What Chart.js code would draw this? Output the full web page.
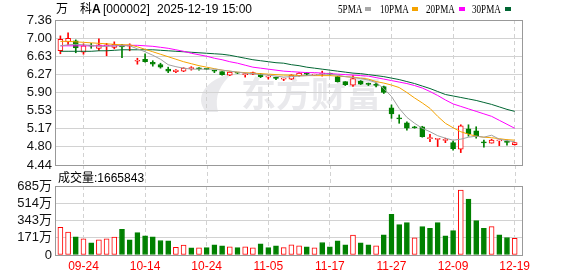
<!DOCTYPE html>
<html>
<head>
<meta charset="utf-8">
<script src="https://cdn.jsdelivr.net/npm/chart.js@4.4.1/dist/chart.umd.min.js"></script>
<style>
  body { margin: 0; background: #fff; }
  #wrap { position: relative; width: 578px; height: 276px; overflow: hidden; }
  canvas { position: absolute; left: 0; top: 0; }
  .t { position: absolute; white-space: pre; font-size: 12px; line-height: 14px; color: #000;
       font-family: "Liberation Sans", Arial, sans-serif; }
  .cjk { font-family: "Noto Sans CJK SC", sans-serif; }
  .lg { position: absolute; top: 2px; font-family: "Liberation Serif", serif; font-size: 12px;
        line-height: 14px; transform: scaleX(0.76); transform-origin: 0 0; white-space: pre; }
  .box { position: absolute; top: 7px; width: 6px; height: 4px; }
</style>
</head>
<body>
<div id="wrap">
  <canvas id="kline" width="578" height="276"></canvas>
  <canvas id="vol" width="578" height="276"></canvas>

  <div id="title">
    <span class="t cjk" style="left:56px;top:1px">万</span>
    <span class="t cjk" style="left:80px;top:1px">科<b style="font-family:'Liberation Sans'">A</b></span>
    <span class="t" style="left:103px;top:2px">[000002]</span>
    <span class="t" style="left:157px;top:2px">2025-12-19</span>
    <span class="t" style="left:222px;top:2px">15:00</span>
  </div>

  <span class="lg" style="left:338px">5PMA</span><div class="box" style="left:365px;background:#a8a8a8"></div>
  <span class="lg" style="left:380px">10PMA</span><div class="box" style="left:412px;background:#f5a300"></div>
  <span class="lg" style="left:426px">20PMA</span><div class="box" style="left:459px;background:#ff00ff"></div>
  <span class="lg" style="left:472px">30PMA</span><div class="box" style="left:505px;background:#006633"></div>

  <span class="t" style="left:58px;top:170px"><span class="cjk">成交量</span>:1665843</span>
</div>

<script>
// trading days shown (MM-DD)
const dates = [
  '09-19','09-22','09-23','09-24','09-25','09-26','09-29','09-30','10-09','10-10',
  '10-13','10-14','10-15','10-16','10-17','10-20','10-21','10-22','10-23','10-24',
  '10-27','10-28','10-29','10-30','10-31','11-03','11-04','11-05','11-06','11-07',
  '11-10','11-11','11-12','11-13','11-14','11-17','11-18','11-19','11-20','11-21',
  '11-24','11-25','11-26','11-27','11-28','12-01','12-02','12-03','12-04','12-05',
  '12-08','12-09','12-10','12-11','12-12','12-15','12-16','12-17','12-18','12-19'
];
const tickLabels = ['09-24','10-14','10-24','11-05','11-17','11-27','12-09','12-19'];

const open = [
  6.74,6.92,6.94,6.71,6.845,6.79,6.84,6.81,6.86,6.835,
  6.53,6.57,6.51,6.46,6.37,6.32,6.33,6.38,6.385,6.375,
  6.34,6.32,6.25,6.30,6.26,6.27,6.27,6.21,6.195,6.17,
  6.17,6.24,6.28,6.25,6.27,6.28,6.22,6.12,6.05,6.13,
  6.075,6.055,6.02,5.59,5.39,5.29,5.21,5.21,4.97,4.955,
  4.935,4.89,4.76,5.17,5.13,4.895,4.88,4.925,4.905,4.85
];
const high = [
  7.04,7.10,6.96,6.88,6.89,6.98,6.89,6.92,6.87,6.88,
  6.59,6.68,6.54,6.49,6.41,6.36,6.40,6.42,6.40,6.38,
  6.35,6.32,6.32,6.30,6.29,6.31,6.28,6.24,6.21,6.19,
  6.26,6.30,6.30,6.27,6.33,6.29,6.23,6.12,6.24,6.14,
  6.09,6.09,6.03,5.65,5.45,5.31,5.22,5.22,5.06,4.97,
  4.98,4.92,5.25,5.25,5.21,4.94,4.96,4.94,4.94,4.89
];
const low = [
  6.68,6.86,6.70,6.67,6.79,6.74,6.64,6.78,6.60,6.74,
  6.47,6.51,6.43,6.39,6.30,6.30,6.32,6.35,6.35,6.36,
  6.30,6.25,6.24,6.28,6.21,6.26,6.20,6.17,6.16,6.14,
  6.16,6.23,6.24,6.24,6.23,6.25,6.11,6.04,6.02,6.06,
  6.04,6.01,5.88,5.38,5.28,5.14,5.18,5.00,4.91,4.81,
  4.89,4.74,4.69,5.02,4.98,4.80,4.88,4.83,4.84,4.84
];
const close = [
  6.97,6.99,6.80,6.84,6.835,6.86,6.855,6.87,6.82,6.845,
  6.54,6.52,6.47,6.41,6.33,6.35,6.39,6.40,6.375,6.365,
  6.33,6.26,6.31,6.29,6.265,6.30,6.22,6.215,6.185,6.175,
  6.25,6.29,6.27,6.27,6.275,6.27,6.12,6.06,6.18,6.07,
  6.065,6.045,5.90,5.47,5.37,5.18,5.19,5.01,4.98,4.96,
  4.945,4.77,5.23,5.07,5.02,4.885,4.94,4.93,4.895,4.89
];

// moving averages
const ma5 = [
  6.84,6.86,6.87,6.86,6.85,6.83,6.83,6.84,6.84,6.84,
  6.78,6.72,6.65,6.57,6.46,6.42,6.39,6.37,6.37,6.37,
  6.37,6.35,6.33,6.31,6.29,6.28,6.26,6.25,6.23,6.21,
  6.22,6.23,6.24,6.25,6.27,6.27,6.25,6.22,6.20,6.18,
  6.15,6.10,5.98,5.82,5.58,5.40,5.28,5.18,5.11,5.03,
  4.98,4.94,4.96,5.00,5.02,5.00,5.04,4.96,4.93,4.91
];
const ma10 = [
  6.93,6.93,6.92,6.91,6.90,6.89,6.88,6.87,6.86,6.86,
  6.82,6.77,6.72,6.67,6.62,6.57,6.52,6.48,6.44,6.41,
  6.38,6.35,6.33,6.31,6.30,6.29,6.28,6.27,6.26,6.25,
  6.25,6.24,6.24,6.24,6.24,6.24,6.23,6.22,6.21,6.19,
  6.17,6.12,6.09,6.05,6.00,5.90,5.79,5.69,5.58,5.42,
  5.28,5.19,5.11,5.06,5.02,5.00,4.99,4.97,4.95,4.94
];
const ma20 = [
  6.84,6.84,6.84,6.84,6.84,6.84,6.84,6.84,6.85,6.85,
  6.85,6.84,6.83,6.81,6.79,6.76,6.73,6.69,6.66,6.63,
  6.59,6.56,6.52,6.49,6.45,6.41,6.39,6.37,6.35,6.33,
  6.32,6.31,6.30,6.30,6.29,6.28,6.27,6.26,6.25,6.24,
  6.23,6.20,6.17,6.14,6.11,6.08,6.04,5.99,5.92,5.84,
  5.75,5.67,5.62,5.57,5.52,5.47,5.42,5.34,5.26,5.18
];
const ma30 = [
  6.73,6.73,6.73,6.73,6.73,6.74,6.74,6.75,6.76,6.76,
  6.76,6.76,6.76,6.75,6.74,6.73,6.72,6.71,6.70,6.69,
  6.68,6.67,6.65,6.62,6.59,6.56,6.54,6.52,6.50,6.49,
  6.46,6.44,6.41,6.39,6.37,6.35,6.33,6.31,6.29,6.28,
  6.26,6.24,6.22,6.19,6.16,6.12,6.08,6.03,5.98,5.92,
  5.86,5.83,5.80,5.77,5.74,5.70,5.66,5.61,5.56,5.52
];

// volume in 万, and whether the bar is drawn red (1) or green (0)
const volume = [
  275,228,181,161,121,151,161,178,255,151,
  222,191,181,144,141,77,98,70,70,74,
  101,91,81,74,81,70,111,74,91,74,
  101,91,81,70,124,81,141,101,198,121,
  101,91,201,403,302,322,171,282,265,322,
  191,242,644,554,342,265,282,201,174,166.5843
];
const volUp = [
  1,1,0,1,0,1,1,1,0,0,
  0,0,0,0,0,1,1,0,1,0,
  0,0,1,0,1,1,0,0,0,1,
  1,1,0,1,0,0,0,0,1,0,
  0,1,0,0,0,0,1,0,0,0,
  0,0,1,0,0,0,1,0,0,1
];

const priceTicks = [4.44, 4.805, 5.17, 5.535, 5.90, 6.265, 6.63, 6.995, 7.36];
const priceTickLabels = ['4.44','4.80','5.17','5.53','5.90','6.27','6.63','7.00','7.36'];
const volTicks = [0, 171.25, 342.5, 513.75, 685];
const volTickLabels = ['0','171万','343万','514万','685万'];

const RED = '#ff0000';
const GREEN = '#008000';
const GRID = '#d2d2d2';
const FRAME = '#999999';
const FONT = "'Liberation Sans', 'Noto Sans CJK SC', sans-serif";
const X_MIN = -0.7, X_MAX = 59.95;
const tickIdx = tickLabels.map(l => dates.indexOf(l));
const isUp = i => close[i] >= open[i];

// grey frame around the plot area
const framePlugin = {
  id: 'frame',
  afterDraw(chart) {
    const { ctx, chartArea: a } = chart;
    ctx.save();
    ctx.strokeStyle = FRAME;
    ctx.lineWidth = 1;
    ctx.strokeRect(Math.round(a.left) + 0.5, Math.round(a.top) + 0.5,
      Math.round(a.right - a.left), Math.round(a.bottom - a.top));
    ctx.restore();
  }
};

// watermark + dashed date lines running through the gap between the panels
const klineExtras = {
  id: 'klineExtras',
  beforeDraw(chart) {
    const ctx = chart.ctx;
    ctx.save();
    ctx.fillStyle = '#e9e9ec';
    ctx.beginPath();
    ctx.moveTo(206, 112);
    ctx.bezierCurveTo(194, 98, 204, 80, 233, 73);
    ctx.bezierCurveTo(220, 84, 214, 96, 218, 112);
    ctx.closePath();
    ctx.fill();
    ctx.font = "bold 35px 'Noto Sans CJK SC', sans-serif";
    ctx.textBaseline = 'middle';
    ctx.fillText('东方财富', 241, 94);
    ctx.restore();
  },
  afterDraw(chart) {
    const { ctx, chartArea: a, scales } = chart;
    ctx.save();
    ctx.strokeStyle = GRID;
    ctx.lineWidth = 1;
    ctx.setLineDash([4, 3]);
    tickIdx.forEach(v => {
      const px = Math.round(scales.x.getPixelForValue(v)) + 0.5;
      ctx.beginPath();
      ctx.moveTo(px, a.bottom);
      ctx.lineTo(px, 186);
      ctx.stroke();
    });
    ctx.restore();
  }
};

const maLine = (label, values, color) => ({
  type: 'line',
  label,
  data: values.map((v, i) => ({ x: i, y: v })),
  borderColor: color,
  borderWidth: 1,
  pointRadius: 0,
  tension: 0,
  order: 0
});

const xScale = (extra) => Object.assign({
  type: 'linear',
  min: X_MIN,
  max: X_MAX,
  offset: false,
  afterBuildTicks: s => { s.ticks = tickIdx.map(v => ({ value: v })); },
  grid: { color: GRID, drawTicks: false, offset: false },
  border: { display: false, dash: [4, 3] }
}, extra);

new Chart(document.getElementById('kline'), {
  type: 'bar',
  data: {
    datasets: [
      maLine('5PMA', ma5, '#a0a0a0'),
      maLine('10PMA', ma10, '#f5a300'),
      maLine('20PMA', ma20, '#ff00ff'),
      maLine('30PMA', ma30, '#006633'),
      {
        label: 'body',
        data: open.map((o, i) => ({ x: i, y: [o, close[i]] })),
        backgroundColor: c => isUp(c.dataIndex) ? '#ffffff' : GREEN,
        borderColor: c => isUp(c.dataIndex) ? RED : GREEN,
        borderWidth: 1,
        borderSkipped: false,
        barThickness: 5,
        minBarLength: 1,
        grouped: false,
        order: 1
      },
      {
        label: 'wick',
        data: low.map((l, i) => ({ x: i, y: [l, high[i]] })),
        backgroundColor: c => isUp(c.dataIndex) ? RED : GREEN,
        borderWidth: 0,
        barThickness: 1,
        grouped: false,
        order: 2
      }
    ]
  },
  options: {
    responsive: false,
    animation: false,
    events: [],
    layout: { padding: { top: 20, right: 56, left: 0, bottom: 0 } },
    plugins: { legend: { display: false }, tooltip: { enabled: false } },
    scales: {
      x: xScale({
        afterFit: s => { s.height = 111; },
        ticks: { display: false }
      }),
      y: {
        min: 4.44,
        max: 7.36,
        afterBuildTicks: s => { s.ticks = priceTicks.map(v => ({ value: v })); },
        afterFit: s => { s.width = 55; },
        ticks: {
          autoSkip: false,
          padding: 3,
          color: '#111',
          font: { family: FONT, size: 13 },
          callback: (v, i) => priceTickLabels[i]
        },
        grid: { color: GRID, drawTicks: false },
        border: { display: false }
      }
    }
  },
  plugins: [klineExtras, framePlugin]
});

new Chart(document.getElementById('vol'), {
  type: 'bar',
  data: {
    datasets: [{
      label: '成交量',
      data: volume.map((v, i) => ({ x: i, y: v })),
      backgroundColor: c => volUp[c.dataIndex] ? '#ffffff' : GREEN,
      borderColor: c => volUp[c.dataIndex] ? RED : GREEN,
      borderWidth: 1,
      borderSkipped: false,
      barThickness: 5,
      grouped: false
    }]
  },
  options: {
    responsive: false,
    animation: false,
    events: [],
    layout: { padding: { top: 186, right: 56, left: 0, bottom: 0 } },
    plugins: { legend: { display: false }, tooltip: { enabled: false } },
    scales: {
      x: xScale({
        afterFit: s => { s.height = 21; },
        ticks: {
          autoSkip: false,
          maxRotation: 0,
          padding: 4,
          color: RED,
          font: { family: FONT, size: 12 },
          callback: (v, i) => tickLabels[i]
        }
      }),
      y: {
        min: 0,
        max: 685,
        afterBuildTicks: s => { s.ticks = volTicks.map(v => ({ value: v })); },
        afterFit: s => { s.width = 55; },
        ticks: {
          autoSkip: false,
          padding: 3,
          color: '#111',
          font: { family: FONT, size: 13 },
          callback: (v, i) => volTickLabels[i]
        },
        grid: { color: GRID, drawTicks: false },
        border: { display: false }
      }
    }
  },
  plugins: [framePlugin]
});
</script>
</body>
</html>
